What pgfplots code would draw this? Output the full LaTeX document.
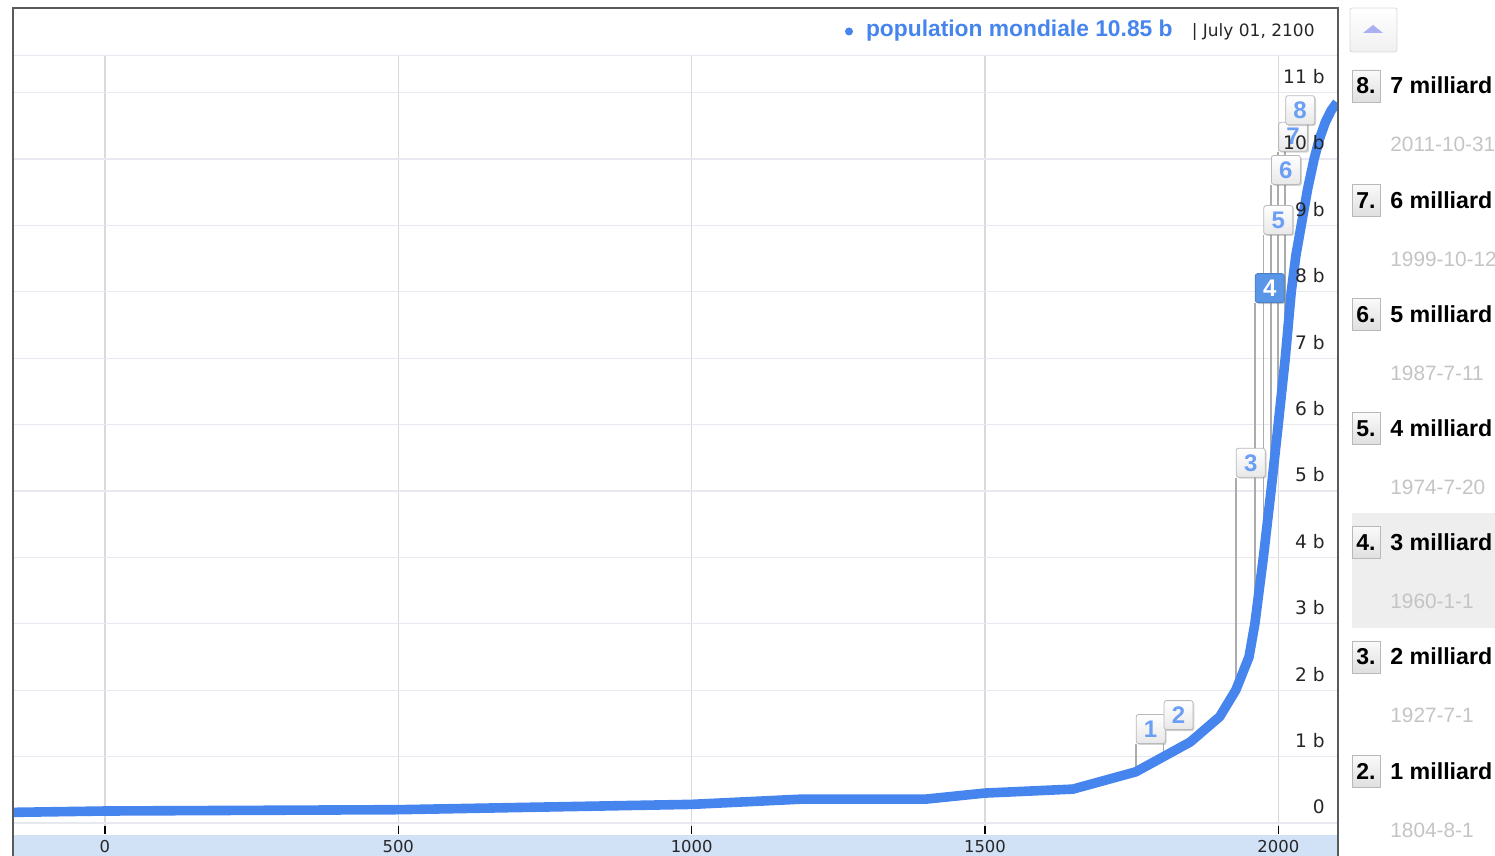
\documentclass[border=0pt]{standalone}
\usepackage{pgfplots}
\pgfplotsset{compat=1.18}
\usepackage{pgfplotstable}
\usepackage{fontspec}
\setmainfont{Liberation Sans}
\newfontfamily\dejavu{DejaVu Sans}
\usetikzlibrary{shadows}
\definecolor{gblue}{HTML}{4684EE}
\definecolor{flagnum}{HTML}{6B9EF5}
\definecolor{selblue}{HTML}{5A96E8}
\definecolor{bandblue}{HTML}{D1E2F7}
\definecolor{hgrid}{HTML}{E8E8F0}
\definecolor{vgrid}{HTML}{DADADA}
\definecolor{framec}{HTML}{5A5A5A}
\definecolor{dategray}{HTML}{C4C4C4}
\definecolor{selbg}{HTML}{EEEEEE}
\definecolor{tri}{HTML}{ABB0F2}

\pgfplotstableread{
year pop
-155 0.16
0 0.18
500 0.20
1000 0.28
1190 0.36
1400 0.36
1500 0.45
1650 0.51
1757 0.77
1804.6 1.0
1850 1.22
1900 1.6
1927.5 2.0
1950 2.5
1960 3.0
1974.5 4.0
1987.5 5.0
1999.8 6.0
2011.8 7.0
2022 8.0
2030 8.55
2040 9.05
2050 9.55
2061 10.0
2070 10.3
2080 10.55
2090 10.73
2100 10.85
}\popdata

\tikzset{
 flag/.style={draw=gray!55, rounded corners=1.2pt, top color=white, bottom color=gray!18,
   minimum width=14.5pt, minimum height=14.5pt, inner sep=0pt,
   font=\fontsize{12}{12}\bfseries\selectfont, text=flagnum,
   drop shadow={shadow xshift=0.7pt, shadow yshift=-0.7pt, opacity=0.35, fill=gray}},
 selflag/.style={flag, top color=selblue, bottom color=selblue, draw=selblue!85!black, text=white}
}

\begin{document}
\begin{tikzpicture}
\begin{scope}[x=0.5pt,y=-0.5pt,yshift=428pt]
 \fill[bandblue] (14,835) rectangle (1337,856);
 \draw[hgrid, line width=0.6pt] (14,55.5) -- (1337,55.5);
 % right panel
 \draw[gray!30, top color=white, bottom color=gray!12, rounded corners=1pt] (1350,8) rectangle (1397,52);
 \fill[tri] (1363,33) -- (1383,33) -- (1373,25) -- cycle;
 \fill[selbg] (1352,513) rectangle (1495,628);
 \foreach \k/\n/\t/\d in {0/8./7 milliard/2011-10-31, 1/7./6 milliard/1999-10-12, 2/6./5 milliard/1987-7-11, 3/5./4 milliard/1974-7-20, 4/4./3 milliard/1960-1-1, 5/3./2 milliard/1927-7-1, 6/2./1 milliard/1804-8-1}{
   \pgfmathsetmacro\ty{94+\k*114.2}
   \pgfmathsetmacro\dy{152+\k*114.2}
   \pgfmathsetmacro\ba{70+\k*114.2}
   \pgfmathsetmacro\bb{102+\k*114.2}
   \draw[gray!55, top color=gray!4, bottom color=gray!25] (1352,\ba) rectangle (1380,\bb);
   \node[anchor=base, inner sep=0pt, font=\fontsize{11.5}{13}\bfseries\selectfont] at (1366,\ty) {\n};
   \node[anchor=base west, inner sep=0pt, font=\fontsize{11.6}{13}\bfseries\selectfont] at (1390,\ty) {\t};
   \node[anchor=base west, inner sep=0pt, text=dategray, font=\fontsize{10.4}{12}\selectfont] at (1390,\dy) {\d};
 }
\end{scope}

\begin{axis}[
 set layers,
 at={(7pt,11pt)}, anchor=south west,
 width=661.5pt, height=389pt, scale only axis,
 xmin=-155, xmax=2100, ymin=-0.166, ymax=11.55,
 axis line style={draw=none},
 xtick={0,500,1000,1500,2000}, xticklabels={0,500,1000,1500,2000},
 ytick={0,1,2,3,4,5,6,7,8,9,10,11},
 yticklabels={0,1 b,2 b,3 b,4 b,5 b,6 b,7 b,8 b,9 b,10 b,11 b},
 xtick pos=bottom, tick align=inside, major tick length=4pt,
 ytick style={draw=none}, xtick style={black, line width=0.7pt},
 xmajorgrids, ymajorgrids,
 x grid style={vgrid, line width=0.6pt}, y grid style={hgrid, line width=0.6pt},
 yticklabel pos=right,
 yticklabel style={/pgfplots/on layer=axis foreground, anchor=east, inner sep=0pt, xshift=-6pt, yshift=8pt, text=black!85, font=\dejavu\fontsize{9.3}{11}\selectfont},
 xticklabel style={/pgfplots/on layer=axis foreground, anchor=center, inner sep=0pt, yshift=-6.5pt, text=black!85, font=\dejavu\fontsize{8.2}{10}\selectfont},
]
\addplot[gray!65, line width=0.8pt] coordinates {(1757,0.77) (1757,1.19)};
\addplot[gray!65, line width=0.8pt] coordinates {(1804.6,1.0) (1804.6,1.40)};
\addplot[gray!65, line width=0.8pt] coordinates {(1927.5,2.0) (1927.5,5.20)};
\addplot[gray!65, line width=0.8pt] coordinates {(1960,3.0) (1960,7.83)};
\addplot[gray!65, line width=0.8pt] coordinates {(1974.5,4.0) (1974.5,8.855)};
\addplot[gray!65, line width=0.8pt] coordinates {(1987.5,5.0) (1987.5,9.61)};
\addplot[gray!65, line width=0.8pt] coordinates {(1999.8,6.0) (1999.8,10.11)};
\addplot[gray!65, line width=0.8pt] coordinates {(2011.8,7.0) (2011.8,10.51)};
\addplot[gblue, line width=4.8pt, line join=round, mark=none] table[x=year, y=pop] {\popdata};
\node[flag, anchor=south west] at (axis cs:1757,1.19) {1};
\node[flag, anchor=south west] at (axis cs:1804.6,1.40) {2};
\node[flag, anchor=south west] at (axis cs:1927.5,5.20) {3};
\node[selflag, anchor=south west] at (axis cs:1960,7.83) {4};
\node[flag, anchor=south west] at (axis cs:1974.5,8.855) {5};
\node[flag, anchor=south west] at (axis cs:1987.5,9.61) {6};
\node[flag, anchor=south west] at (axis cs:1999.8,10.11) {7};
\node[flag, anchor=south west] at (axis cs:2011.8,10.51) {8};
\end{axis}

\begin{scope}[x=0.5pt,y=-0.5pt,yshift=428pt]
 \draw[framec, line width=1pt] (13,856) -- (13,8) -- (1337.5,8) -- (1337.5,856);
 \fill[gblue] (849,31.5) circle (2pt);
 \node[anchor=base east, inner sep=0pt, text=gblue, font=\fontsize{11.4}{13}\bfseries\selectfont] at (1173,37) {population mondiale 10.85 b};
 \node[anchor=base east, inner sep=0pt, text=black!85, font=\dejavu\fontsize{8.5}{10}\selectfont] at (1315,37) {| July 01, 2100};
\end{scope}
\pgfresetboundingbox
\path[use as bounding box] (0,0) rectangle (747.5pt,428pt);
\end{tikzpicture}
\end{document}
